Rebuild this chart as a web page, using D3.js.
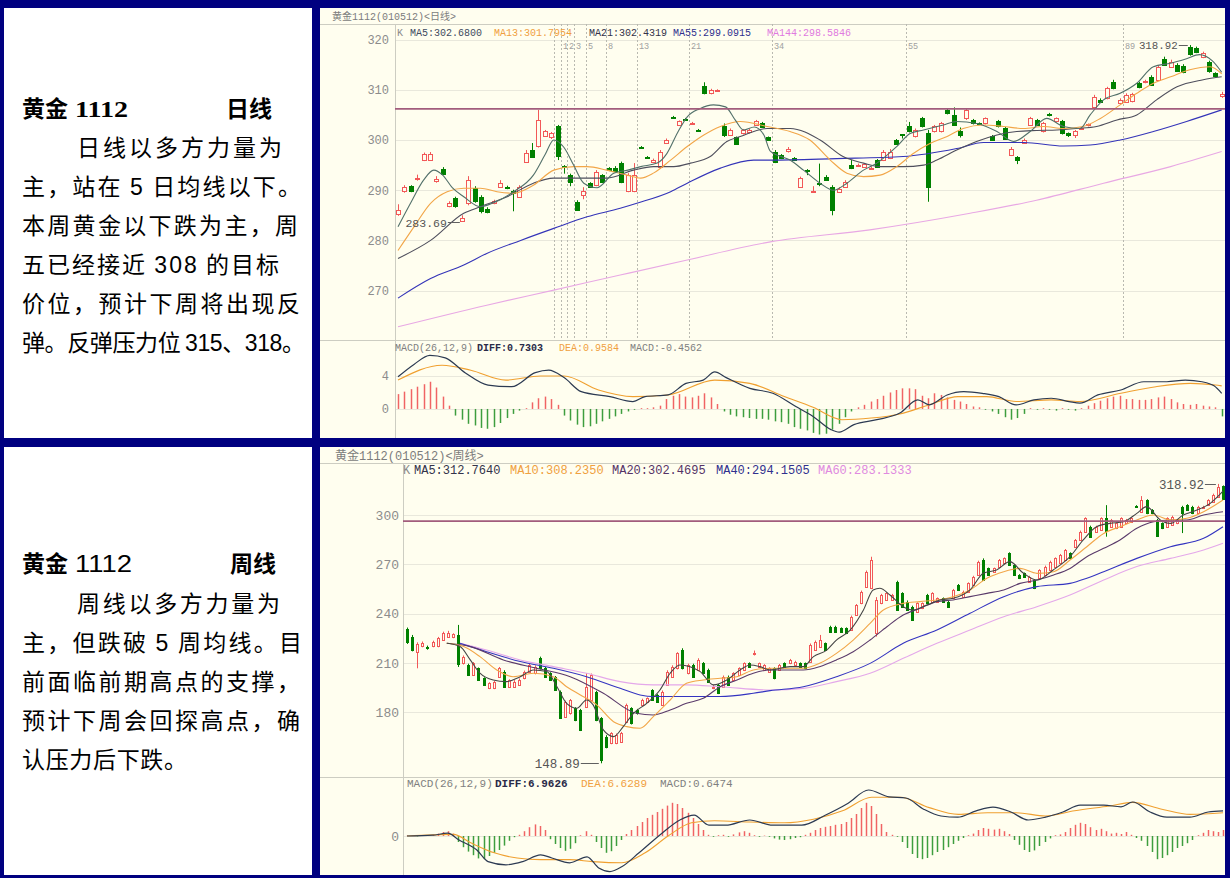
<!DOCTYPE html>
<html>
<head>
<meta charset="utf-8">
<title>黄金1112 日线 / 周线</title>
<script src="https://cdn.jsdelivr.net/npm/d3@7/dist/d3.min.js"></script>
<style>
  html, body { margin: 0; padding: 0; background: #000080; }
  svg { display: block; }
</style>
</head>
<body>
<svg id="page" width="1230" height="878"></svg>
<script>
// ---------------- daily chart data ----------------
// one candle per day: [open, high, low, close]
const dayCandles = [
  [285.2,287.2,284.9,286.0],[289.8,291.0,289.5,290.7],[290.8,291.0,289.6,289.8],[292.2,293.1,291.9,292.5],
  [296.0,297.5,295.8,297.3],[296.1,297.6,295.9,297.3],[291.9,292.8,291.5,292.2],[294.2,294.6,293.1,293.3],
  [286.9,287.8,286.6,287.4],[288.5,288.7,286.5,286.8],[283.9,285.0,283.69,284.5],[287.5,292.8,287.0,292.0],
  [290.4,290.8,287.5,287.8],[288.7,289.0,285.4,285.8],[286.3,286.6,285.4,285.7],[287.4,288.1,287.2,287.9],
  [290.7,292.0,290.5,291.5],[290.7,290.9,290.2,290.4],[289.9,290.1,285.8,289.4],[288.7,291.0,288.5,290.7],
  [295.7,298.0,295.5,297.5],[298.0,299.4,296.5,296.7],[298.8,306.0,298.5,304.0],[300.8,302.0,300.6,301.7],
  [300.5,301.6,300.2,301.3],[302.7,303.0,296.0,296.8],[294.8,295.0,293.3,294.6],[293.0,293.3,290.8,291.7],
  [287.7,288.0,285.9,286.1],[289.0,290.6,288.2,289.8],[291.4,291.6,290.5,290.7],[291.0,294.0,290.8,293.6],
  [293.0,293.2,291.5,291.7],[294.4,294.6,293.8,294.0],[294.5,294.8,293.7,293.9],[295.4,295.7,291.4,291.7],
  [289.8,293.4,289.6,293.0],[289.8,295.4,289.6,293.0],[298.6,298.8,298.3,298.5],[296.6,296.8,296.3,296.5],
  [295.7,296.3,295.4,296.0],[294.7,298.0,294.3,297.7],[299.4,300.3,299.2,300.0],[304.6,304.8,304.2,304.4],
  [303.0,303.9,302.8,303.7],[304.2,304.4,303.9,304.1],[303.2,303.6,303.0,303.4],[302.0,302.2,301.7,301.9],
  [310.8,311.5,309.1,309.3],[309.3,310.2,309.1,310.0],[309.7,310.1,309.6,309.9],[302.7,303.3,300.6,301.0],
  [301.0,302.3,300.8,302.0],[300.5,300.7,299.1,299.3],[301.3,302.2,301.1,302.0],[301.5,302.2,301.3,302.0],
  [303.0,304.0,302.8,303.7],[303.4,303.6,302.4,302.6],[300.5,300.7,299.8,300.0],[297.7,298.0,295.4,295.7],
  [297.0,297.2,296.2,296.4],[297.8,298.6,297.5,298.2],[296.4,296.6,295.8,296.0],[290.7,292.7,290.5,292.4],
  [294.1,294.2,293.0,293.9],[289.6,290.8,289.5,289.8],[291.5,295.3,290.8,291.3],[292.7,293.0,291.9,292.1],
  [290.7,291.0,285.0,286.0],[289.7,290.6,289.5,290.3],[290.7,292.0,290.5,291.7],[295.0,296.0,294.2,294.4],
  [294.9,295.3,294.7,295.1],[294.7,295.4,294.5,295.2],[294.3,294.7,294.1,294.5],[296.0,296.2,294.5,294.7],
  [296.0,298.0,295.8,297.7],[296.4,298.2,296.2,297.7],[300.0,300.2,299.1,299.3],[301.1,301.2,300.3,301.0],
  [302.7,303.6,301.5,301.7],[300.7,302.3,300.5,302.0],[304.3,304.6,302.5,302.7],[301.3,302.0,287.7,290.7],
  [301.7,303.0,301.5,302.7],[301.7,303.6,301.5,303.3],[306.0,306.2,305.1,305.3],[305.0,306.5,302.8,303.0],
  [301.7,302.5,300.5,301.0],[304.3,306.2,304.0,306.0],[304.0,304.2,303.1,303.3],[303.3,303.5,303.0,303.2],
  [303.3,304.5,303.1,304.3],[300.7,301.0,299.8,300.0],[303.7,304.0,302.5,302.7],[302.3,302.6,300.1,300.3],
  [297.0,298.6,296.8,298.3],[296.7,296.8,295.2,296.0],[299.5,300.3,299.3,300.0],[303.0,304.6,302.8,304.3],
  [304.0,304.2,302.8,303.0],[301.7,303.6,301.5,303.3],[305.2,305.4,304.7,304.9],[303.7,304.5,303.5,304.3],
  [303.7,304.0,301.1,301.3],[301.3,301.5,300.6,301.0],[301.0,302.0,300.4,301.7],[302.3,302.6,302.1,302.4],
  [302.9,303.3,302.7,303.1],[306.6,309.0,306.4,308.6],[308.0,308.3,307.4,307.6],[308.3,310.6,308.1,310.3],
  [311.6,312.0,310.1,310.3],[307.3,308.3,307.1,308.0],[307.6,309.3,307.4,309.0],[307.8,309.4,307.5,309.1],
  [311.3,311.6,310.3,310.5],[311.5,312.0,311.3,311.7],[312.6,312.9,310.8,311.0],[312.0,314.9,311.8,314.6],
  [316.2,316.6,314.8,315.0],[314.6,316.0,314.4,315.6],[315.0,315.3,313.6,313.8],[314.8,315.1,313.3,313.6],
  [318.5,318.92,316.8,317.2],[318.3,318.6,317.3,317.5],[316.5,317.6,316.3,317.3],[315.6,315.8,313.4,313.8],
  [313.3,313.5,312.6,312.8],[308.8,309.6,308.4,309.2]
];

// moving averages as [bar index, value]
const dayMA5 = [[0,282.7],[2,287.5],[4,292.0],[5.6,294.0],[7,293.0],[8.5,290.5],[10.3,288.7],[12.9,286.7],
  [15,287.5],[18.1,289.7],[21.2,293.0],[23,297.0],[24.4,300.0],[26,298.5],[27.5,295.0],[29.1,291.4],[31.2,290.5],
  [33.8,293.4],[36,294.0],[38,294.7],[40.6,295.4],[42.1,297.3],[43.8,301.5],[45.3,304.6],[47.2,306.2],[49.4,307.0],
  [51.3,306.6],[52.8,304.0],[54.1,302.0],[55.8,302.6],[57.3,301.0],[58.3,297.8],[61.4,296.0],[63.5,294.0],
  [66.1,291.4],[68.2,290.0],[70.3,291.4],[72.9,294.0],[75,295.4],[78.1,298.7],[80.2,301.3],[82.3,302.0],
  [85.4,303.0],[87.5,303.7],[90.6,303.3],[93.8,301.7],[96.4,299.7],[99,301.7],[101.6,304.3],[104.2,302.7],
  [106.8,302.3],[108.4,305.0],[110.5,308.0],[113.1,309.3],[115.7,311.3],[118.3,314.6],[121,315.3],[123.5,316.2],
  [125.5,317.0],[127.5,315.8],[129,313.5]];
const dayMA13 = [[0,278.0],[2.5,282.7],[5.1,287.4],[7.7,289.7],[10.3,290.4],[12.9,290.4],[15.5,289.7],[18.1,289.4],
  [21.2,291.0],[24.4,294.0],[27.5,294.7],[29.6,294.7],[32.7,294.0],[35.9,293.0],[38,292.4],[40,293.4],[42.7,296.0],
  [45.3,298.7],[47.9,301.0],[50.5,302.7],[53.6,303.7],[57.8,302.7],[61.4,301.7],[64.5,300.0],[67.7,296.0],
  [70.3,293.4],[72.9,292.7],[75.5,293.0],[78.1,294.7],[80.7,297.3],[83.3,299.3],[86,300.7],[88.5,302.3],
  [91.7,303.0],[94.8,302.7],[98,302.3],[101.1,302.7],[104.2,302.3],[107.3,302.7],[110,304.3],[113.1,307.0],
  [115.7,309.3],[118.3,311.3],[121,312.6],[124,314.0],[127.2,314.6],[129,313.2]];
const dayMA21 = [[0,276.4],[5.1,280.0],[10.3,285.4],[12.9,286.7],[17.1,288.7],[21.2,291.4],[24.4,292.4],
  [29.6,292.4],[32.7,292.4],[36.9,294.0],[40,294.7],[43.2,294.7],[45.8,295.4],[48.9,296.7],[51.5,299.7],
  [53.6,300.7],[57.8,302.3],[61.4,302.3],[66.1,300.0],[69.7,296.7],[72.9,295.4],[75.5,294.7],[79.1,294.7],
  [82.3,295.0],[84.4,296.0],[87.5,298.0],[90.6,299.7],[93.8,301.0],[96.9,301.7],[100,301.9],[103.2,302.0],
  [106.3,302.3],[109.4,302.7],[112.6,304.0],[115.7,305.0],[118.8,308.0],[122,310.6],[126.1,312.0],[129,312.6]];
const dayMA55 = [[0,268.5],[5.1,272.4],[10.3,275.1],[13.9,277.4],[19.2,280.0],[24.4,282.4],[29.6,284.7],
  [34.8,286.4],[37.4,287.4],[42.7,289.7],[45.3,291.4],[50.5,294.4],[55.7,296.0],[58.3,296.0],[68.7,296.3],
  [79.1,296.7],[87.5,298.3],[91.7,299.5],[98,299.5],[104.2,298.8],[108.4,299.0],[113.1,300.0],[118.3,301.7],
  [123.5,303.7],[129,306.0]];
const dayMA144 = [[0,262.8],[13.9,267.1],[24.4,270.1],[34.8,273.1],[45.3,276.1],[58.3,279.7],[73.9,282.1],
  [89.6,285.4],[100,288.0],[110.5,291.4],[121,294.7],[129,297.7]];

// MACD(26,12,9)
const dayDiff = [[0,3.9],[2.5,5.4],[5,6.5],[7.4,6.2],[10.5,4.4],[14.1,2.9],[17.8,2.7],[21.5,4.4],[23.6,4.7],
  [26,3.8],[28.7,2.1],[33.2,1.5],[36.8,0.9],[38.7,1.5],[42.3,1.7],[45.1,3.1],[47.8,3.5],[49.6,4.5],[51.4,3.8],
  [55.1,2.5],[58.7,1.9],[62.3,0.3],[65,-0.9],[67.8,-2.5],[69.1,-2.8],[71.4,-1.9],[75,-1.3],[78.6,-0.5],
  [81.4,1.1],[83.2,0.5],[86,1.7],[88.6,2.1],[91.5,1.9],[94.1,1.5],[96.8,0.5],[99.6,1.1],[102.3,1.3],[105.1,0.9],
  [106.8,0.7],[109.6,1.7],[113.2,2.3],[116.8,3.3],[120.4,3.3],[123.3,3.5],[125.9,3.3],[127.8,2.8],[129,1.9]];
const dayDea = [[0,3.5],[6.9,5.3],[11.4,4.7],[16.9,3.5],[22.3,4.0],[26,4.0],[31.4,2.3],[36.8,1.5],[42.3,1.7],
  [49.6,3.5],[55.1,3.1],[60.5,1.5],[65,0.2],[69.5,-1.3],[74.1,-1.1],[78.6,-0.6],[83.2,0.5],[87.7,1.5],[92.2,1.5],
  [96.8,0.9],[102.3,1.1],[106.8,0.9],[113.2,1.9],[118.7,2.7],[124.1,3.1],[128,2.9],[129,2.8]];
const dayHist = [
  1.8,2.1,2.4,2.7,3.0,3.3,2.6,1.5,0.4,
  -0.8,-1.3,-1.8,-2.0,-2.3,-2.4,-2.2,-1.7,-1.1,-0.6,-0.2,
  0.1,0.8,1.3,1.5,1.2,0.5,
  -0.8,-1.4,-1.9,-2.2,-2.1,-1.8,-1.5,-1.2,-0.9,-0.6,-0.3,
  -0.1,0.1,0.1,0.2,0.4,
  1.2,1.6,1.8,1.5,1.4,1.6,1.9,1.4,0.6,
  -0.3,-0.7,-0.9,-1.0,-1.1,-1.2,-1.2,-1.3,-1.5,-1.6,-1.8,-2.2,-2.4,-2.6,-2.9,-3.1,-3.0,-2.5,-1.8,-1.0,-0.3,
  0.2,0.5,0.9,1.2,1.6,2.0,2.3,2.5,2.5,2.4,1.6,1.3,1.9,1.7,1.4,1.1,0.9,0.6,0.3,0.2,
  -0.1,-0.3,-0.6,-1.0,-1.3,-1.1,-0.6,
  0.1,-0.1,0.1,-0.1,-0.2,0.1,-0.1,-0.2,0.1,
  0.4,0.7,1.0,1.3,1.5,1.6,1.2,1.2,1.1,1.1,1.2,1.4,1.5,1.2,0.8,0.6,0.5,0.6,0.4,0.3,
  0.2,-0.9
];

const dayTitle = "黄金1112(010512)<日线>";
const dayLegend = ["K", "MA5:302.6800", "MA13:301.7954", "MA21:302.4319", "MA55:299.0915", "MA144:298.5846"];
const dayMacdLegend = ["MACD(26,12,9)", "DIFF:0.7303", "DEA:0.9584", "MACD:-0.4562"];
const dayTicks = [320, 310, 300, 290, 280, 270];
const dayMacdTicks = [4, 0];
const dayResist = 306.2;
const dayMarks = [[10, 283.69], [124, 318.92]];
const fibOrigin = 24.5;
const fibSteps = [0, 1, 2, 3, 5, 8, 13, 21, 34, 55, 89];

// ---------------- weekly chart data ----------------
const wkCandles = [
  [230.5,231.5,221.5,222.5],[226,227,217,218],[216.5,222.5,206.7,221.5],[220.2,223,219.5,222],
  [219.8,220.5,218,218.8],[220,223.5,219.5,222.8],[220,225.8,219.5,225],[224,229,223.5,228],
  [226,229.5,225.5,228],[225.5,228,225,227.5],[227,233.1,207.5,209.5],[209.7,214.5,209,213.8],
  [208.7,209.5,202,202.6],[202.6,210.5,202,209.7],[206.7,207.2,199,199.6],[200.6,201.2,196,196.6],
  [194.5,198.2,194,197.6],[194.5,199,194,198.6],[201.6,207.5,201,206.7],[204.7,205.5,195,195.5],
  [195.5,200,195,199.6],[195.5,199.5,195,198.6],[196.6,200.5,196,199.6],[200.6,205.3,200,204.7],
  [204.7,209.5,204,208.7],[203.7,208.5,203,207.7],[212.8,213.8,206,206.7],[206.7,207.5,201,201.6],
  [203.7,204.3,199,199.6],[201.6,202,193,193.5],[192.5,193.2,176,176.3],[177.3,187,176.5,186.4],
  [179.3,188,178.5,187.4],[182.4,183,174.5,175.3],[181.3,182,168.5,169.2],[183.4,203.7,182.5,195.5],
  [187.4,203.5,186.5,202.6],[192.5,193,174.5,175.3],[176.3,177,148.89,151],[165.1,166,158,159],
  [161.1,167.8,160.5,167.1],[161.1,167,160.5,166.1],[162.1,168,161.5,167.1],[174.2,185.2,173.5,184.4],
  [182.4,183,172.5,173.2],[181.3,182,178.5,179.3],[184.4,188.2,184,187.4],[186.4,189,186,188.4],
  [193.5,194,187,187.4],[190.5,191,186,186.4],[184.4,193.2,184,192.5],[196.6,205.5,196,204.7],
  [201.6,208.5,201,207.7],[206.7,216.5,206,215.8],[217.8,218.9,206,206.7],[203.7,209.5,203,208.7],
  [208.7,209.5,201,201.6],[205.7,212.8,205,211.8],[209.7,210.5,203,203.7],[205.7,206.5,198,198.6],
  [194.5,196.5,194,195.5],[196.6,197.2,191,191.5],[195.5,202.3,195,201.6],[201.6,202.3,196,196.6],
  [199.6,204.3,199,203.7],[202.6,207.3,202,206.7],[205.7,210.3,205,209.7],[209.7,210.3,207.2,207.7],
  [215.5,217.5,214.5,216],[207.7,210.2,207.2,209.7],[205.7,209.2,205.2,208.7],[204.7,207.3,204.2,206.7],
  [206.7,207.3,200,200.6],[205.7,209.3,205.2,208.7],[209.7,210.3,207.2,207.7],[209.7,212.4,209.2,211.8],
  [208.7,211.3,208.2,210.8],[209.7,210.3,207.2,207.7],[209.7,210.2,206.2,206.7],[210.8,221.8,210.3,221],
  [218,223.6,217.5,223],[219.9,227,219.4,223.9],[221.9,222.4,217.3,217.8],[232,232.6,228.5,229],
  [232,232.6,228.5,229],[231,231.6,228.5,229],[231,231.6,227.5,228],[230,238.8,229.5,238.1],
  [239.1,245.8,238.6,245.2],[246.2,254,245.7,253.3],[256.4,266.2,255.9,265.5],[255.4,274.6,254.9,272.6],
  [228,250,226,248.3],[246.2,252,245.7,251.3],[248.3,253,247.8,252.3],[248.3,252,247.8,251.3],
  [259.4,260,241.7,242.2],[252.3,253,243.7,244.2],[247.3,248,241.7,242.2],[244.2,244.8,235.6,236.1],
  [241.2,246.8,240.7,246.2],[243.2,246.8,242.7,246.2],[251.3,252,245.7,246.2],[247.3,253,246.8,252.3],
  [247.3,249.8,246.8,249.3],[249.3,249.8,246.8,247.3],[247.3,247.8,243.7,244.2],[249.3,255,248.8,254.4],
  [257.4,258,253.9,254.4],[250.3,254,249.8,253.3],[253.3,259,252.8,258.4],[257.4,263,256.9,262.5],
  [263.5,272.2,263,271.6],[272.6,273.6,259.9,260.4],[267.5,268,263,263.5],[265.5,268,265,267.5],
  [268.6,273.2,268.1,272.6],[270.6,274.2,270.1,273.6],[276.7,277.3,269.1,269.6],[269.6,270.2,263,263.5],
  [263.5,264,261,261.5],[264.5,265,262,262.5],[259.4,263,258.9,262.5],[260.4,261,254.9,255.4],
  [261.5,267,261,266.5],[263.5,269.2,263,268.6],[266.5,272.2,266,271.6],[268.6,274.2,268.1,273.6],
  [270.6,276.3,270.1,275.7],[272.6,279.3,272.1,278.7],[276.7,277.3,273.1,273.6],[280.7,285.4,280.2,284.8],
  [284.8,290.5,284.3,289.9],[289.9,298.6,289.4,298],[292.9,293.5,286.3,286.8],[289.9,293.5,289.4,292.9],
  [290.9,298.6,290.4,298],[298,306,286.8,290],[292.9,297.6,292.4,297],[291.9,295.5,291.4,294.9],
  [292.9,298.6,292.4,298],[294.9,297.6,294.4,297],[296,298.6,295.5,298],[305.4,306,304.4,305],
  [302,311.5,301.5,309],[309,309.6,300.5,301],[303,303.6,300.5,301],[297,297.6,286.8,287.5],
  [294.9,295.5,291.4,291.9],[292.9,298.6,292.4,298],[293.9,299.6,293.4,299],[294.9,297.6,294.4,297],
  [305.1,305.6,289,301],[306.1,306.6,302.5,303],[305.1,305.6,300.5,301],[301,305.6,300.5,305.1],
  [304.5,305.6,304,305],[306.1,309.6,305.6,309.1],[308,313,307.5,312],[311,318.92,310.5,317],
  [317.5,318,309.5,310]
];

const wkMA5 = [[7.8,221.9],[10.4,219.9],[12.4,211.8],[14.3,203.7],[16.9,199.6],[19.5,198.6],[22.2,201.6],
  [24.8,205.7],[27.4,204.7],[29.4,195.5],[31.3,185.4],[33.3,182.4],[35.2,187.4],[36.5,184.4],[38.5,169.2],
  [40.5,165.1],[42.4,171.2],[44.4,179.3],[47,185.4],[49.6,193.5],[51.6,203.7],[53.5,208.7],[55.5,207.7],
  [57.5,204.7],[60.1,196.6],[62.7,199.6],[65.3,205.7],[67.3,208.7],[69.2,207.7],[71.2,205.7],[75.1,207.7],
  [77.7,207.7],[79.7,213.8],[82.3,217.8],[84.2,223.9],[86.9,230.0],[89.5,242.2],[91.4,254.4],[92.7,255.4],
  [94.7,251.3],[97.3,244.2],[99.3,242.2],[101.9,245.2],[104.5,248.3],[107.1,249.3],[110.4,254.4],[113,264.5],
  [115.6,266.5],[118.2,271.6],[120.9,264.5],[123.5,260.4],[126.7,266.5],[130,274.6],[132.6,284.8],
  [135.2,292.9],[137.8,294.9],[140.5,295.9],[143.1,301.0],[145,305.1],[147.7,297.0],[149.7,294.9],
  [152.2,300.0],[154.9,303.0],[157.5,307.1],[160,314.5]];
const wkMA10 = [[7.8,221.9],[11.1,219.9],[14.3,213.8],[17.6,205.7],[20.8,201.6],[24.8,203.7],[28.7,201.6],
  [31.3,195.5],[34,190.5],[37.2,184.4],[40.5,174.2],[43.1,171.2],[45.7,170.2],[48.3,177.3],[51.6,187.4],
  [54.8,197.6],[58.1,199.6],[61.4,200.6],[64.7,201.6],[67.9,205.7],[71.2,206.7],[77.7,206.7],[80.9,209.7],
  [84.2,215.8],[87.5,223.9],[90.8,234.0],[93.4,242.2],[97.3,246.2],[100.6,247.3],[103.9,248.3],[107.1,250.3],
  [110.4,254.4],[113.7,261.5],[117,265.5],[120.2,267.5],[123.5,264.5],[126.8,265.5],[130,272.6],[133.3,280.7],
  [136.6,288.8],[139.8,292.9],[143.1,297.0],[146.4,300.0],[149.7,297.0],[152.9,298.0],[156.2,302.0],[160,309.1]];
const wkMA20 = [[7.8,221.9],[12.4,219.9],[18.9,211.8],[25.4,206.7],[32,201.6],[38.5,191.5],[45,179.3],
  [48.3,178.3],[51.6,181.3],[54.8,185.4],[58.1,188.4],[61.4,195.5],[64.7,199.6],[67.9,203.7],[71.2,205.7],
  [77.7,205.7],[80.9,207.7],[84.2,211.8],[87.5,216.8],[90.8,223.9],[94.1,232.0],[97.3,239.1],[100.6,243.2],
  [103.9,247.3],[107.1,248.3],[110.4,250.3],[113.7,252.3],[117,254.4],[120.2,258.4],[123.5,260.4],
  [126.8,263.5],[130,267.5],[133.3,274.6],[136.6,279.7],[139.8,284.8],[143.1,291.9],[146.4,295.9],
  [149.7,297.0],[152.9,297.0],[156.2,300.0],[160,302.0]];
const wkMA40 = [[10.4,221.9],[15.6,216.8],[22.2,210.8],[28.7,206.7],[35.2,201.6],[41.8,194.5],[45.7,190.5],
  [48.3,189.5],[54.8,189.5],[61.4,189.5],[67.9,191.5],[71.2,193.1],[77.7,195.5],[84.2,201.6],[90.8,209.7],
  [97.3,221.9],[103.9,230.0],[110.4,240.2],[117,250.3],[123.5,256.4],[130,258.4],[133.3,261.5],[136.6,265.5],
  [143.1,273.6],[149.7,280.7],[156.2,285.8],[160,292.9]];
const wkMA60 = [[10.4,221.9],[15.6,217.8],[22.2,211.8],[28.7,207.7],[35.2,203.7],[41.8,198.6],[48.3,196.6],
  [54.8,196.6],[61.4,195.5],[71.2,193.5],[77.7,194.5],[84.2,198.6],[90.8,203.7],[97.3,212.8],[103.9,221.9],
  [110.4,230.0],[117,238.1],[123.5,244.2],[130,251.3],[136.6,260.4],[143.1,268.6],[149.7,273.6],[156.2,278.7],
  [160,282.8]];

const wkDiff = [[0,0],[5,0.2],[8,0.7],[10.2,-1.0],[13.7,-3.5],[15.9,-6.4],[19.4,-7.2],[22.7,-6.4],[26.2,-4.7],
  [28.4,-5.5],[31.9,-6.7],[35.3,-5.2],[37.6,-8.0],[39.8,-8.9],[42.1,-7.7],[45.5,-4.2],[50,0.7],[53.5,4.0],
  [56.3,5.2],[59.2,2.7],[62.5,2.7],[67.2,4.0],[71.7,2.7],[77.4,2.7],[82,5.2],[86.5,8.2],[90.5,11.5],[94.5,9.8],
  [97.8,9.5],[101.3,6.7],[104.7,5.0],[108,4.7],[111.6,6.3],[114.9,7.2],[118.4,6.0],[121.8,4.0],[125.2,4.7],
  [128.6,6.0],[132,7.7],[136.6,7.7],[140,7.3],[142.3,8.5],[145.7,6.0],[149,4.7],[153.5,4.7],[157.1,6.0],[160,6.3]];
const wkDea = [[0,0],[9.1,0.4],[12.5,-1.7],[17.1,-4.2],[21.6,-5.5],[26.2,-5.9],[31.9,-5.9],[36.4,-6.4],
  [42.1,-6.7],[46.7,-4.2],[51.2,0],[55.8,3.3],[60.3,3.8],[67.2,3.5],[74,3.3],[79.7,4.2],[85.4,6.3],[91.1,9.7],
  [96.7,9.7],[102.4,7.1],[108.1,5.4],[113.8,5.8],[119.5,5.8],[125.2,5.0],[130.9,6.3],[137.7,7.5],[142.3,8.4],
  [148,6.7],[153.6,5.4],[160,5.8]];
const wkHist = [
  0.1,0.1,-0.1,0.2,0.1,0.3,0.6,1.0,1.2,0.6,
  -1.5,-2.8,-3.9,-4.8,-5.6,-5.8,-5.0,-4.2,-3.5,-2.4,-1.2,
  -0.3,
  0.3,1.2,2.2,2.9,2.5,1.5,
  -0.8,-2.0,-3.0,-3.7,-3.2,-1.8,
  0.2,1.2,0.3,
  -1.5,-3.0,-4.2,-3.8,-2.5,-1.0,
  0.5,1.5,2.5,3.5,4.5,5.3,6.0,6.8,7.6,8.3,8.0,7.0,5.8,4.5,3.0,1.5,
  0.3,-0.2,0.2,0.3,-0.2,0.4,0.9,1.2,0.8,0.2,-0.2,0.1,-0.2,
  -0.6,-0.9,-1.0,-0.8,-0.5,-0.3,
  0.3,0.8,1.5,2.0,2.3,2.5,2.8,3.0,3.5,4.5,5.5,7.0,8.3,7.5,5.5,3.0,1.0,
  0.3,-0.2,
  -1.5,-3.0,-4.5,-5.5,-5.8,-5.5,-4.8,-4.0,-3.5,-2.8,-2.0,-1.2,-0.5,
  0.2,0.6,
  1.5,2.0,1.8,1.6,1.8,1.2,0.5,
  -1.0,-2.2,-3.5,-4.0,-3.6,-2.5,-1.5,-0.6,
  0.2,0.4,
  1.0,2.0,2.8,3.3,3.0,2.2,1.5,1.8,1.2,0.6,
  0.8,0.5,1.0,0.3,
  -0.5,-1.2,-2.5,-4.0,-5.8,-5.5,-4.8,-4.0,-3.0,-2.5,-1.8,-1.0,
  0.2,0.8,1.5,1.2,1.0,1.5
];

const wkTitle = "黄金1112(010512)<周线>";
const wkLegend = ["K", "MA5:312.7640", "MA10:308.2350", "MA20:302.4695", "MA40:294.1505", "MA60:283.1333"];
const wkMacdLegend = ["MACD(26,12,9)", "DIFF:6.9626", "DEA:6.6289", "MACD:0.6474"];
const wkTicks = [300, 270, 240, 210, 180];
const wkMacdTicks = [0];
const wkResist = 296.3;
const wkMarks = [[38, 148.89], [159, 318.92]];

// ---------------- commentary text ----------------
const dayHead = ["黄金", "1112", "日线"];
const dayNote = ["日线以多方力量为", "主，站在 5 日均线以下。", "本周黄金以下跌为主，周",
  "五已经接近 308 的目标", "价位，预计下周将出现反", "弹。反弹压力位 315、318。"];
const wkHead = ["黄金", "1112", "周线"];
const wkNote = ["周线以多方力量为", "主，但跌破 5 周均线。目", "前面临前期高点的支撑，",
  "预计下周会回探高点，确", "认压力后下跌。"];

// ---------------- drawing ----------------
const NAVY = "#000080", CREAM = "#fffeef", RED = "#f25858", GREEN = "#008000";
const MONO = "'Liberation Mono', 'DejaVu Sans Mono', 'Noto Sans CJK SC', monospace";
const CJK = "'Noto Sans CJK SC', sans-serif";
const SANS = "'Liberation Sans', Arial, sans-serif";
const SERIF = "'Liberation Serif', 'Times New Roman', serif";

const svg = d3.select("#page");
svg.append("rect").attr("width", 1230).attr("height", 878).attr("fill", NAVY);

// left cells of the table
[[4, 8, 308, 430], [4, 447, 308, 428]].forEach(c => {
  svg.append("rect").attr("x", c[0]).attr("y", c[1]).attr("width", c[2]).attr("height", c[3]).attr("fill", "#fff");
});

function drawNote(head, headNum, lines, spans, titleY, firstY) {
  const g = svg.append("g").attr("fill", "#000");
  g.append("text").attr("x", 22).attr("y", titleY + 8)
    .attr("font-family", CJK).attr("font-size", 23).attr("font-weight", "bold").text(head[0]);
  g.append("text").attr("x", 75).attr("y", titleY + 8)
    .attr("font-family", headNum.font).attr("font-size", 23).attr("font-weight", headNum.weight)
    .attr("textLength", headNum.len).attr("lengthAdjust", "spacingAndGlyphs").text(head[1]);
  g.append("text").attr("x", headNum.rightX).attr("y", titleY + 8)
    .attr("font-family", CJK).attr("font-size", 23).attr("font-weight", "bold").text(head[2]);

  lines.forEach((s, k) => {
    const t = g.append("text")
      .attr("x", spans[k][0]).attr("y", firstY + 39 * k + 8)
      .attr("font-family", CJK).attr("font-size", 23)
      .attr("textLength", spans[k][1] - spans[k][0]).attr("lengthAdjust", "spacing");
    s.split(/(\d+)/).filter(p => p.length).forEach(p => {
      const sp = t.append("tspan").text(p);
      if (/^\d+$/.test(p)) sp.attr("font-family", SANS);
    });
  });
}

drawNote(dayHead, { font: SERIF, weight: "bold", len: 53, rightX: 226 }, dayNote,
  [[77, 282], [22, 301], [22, 298], [22, 279], [22, 300], [22, 305]], 109, 148);
drawNote(wkHead, { font: SANS, weight: "normal", len: 57, rightX: 230 }, wkNote,
  [[77, 280], [22, 302], [22, 300], [22, 300], [22, 187]], 564, 604);

function drawPanel(p) {
  const g = svg.append("g");
  const { x0, x1, y0, y1 } = p.box;
  g.append("rect").attr("x", x0).attr("y", y0).attr("width", x1 - x0).attr("height", y1 - y0).attr("fill", CREAM);

  const x = d3.scaleLinear().domain([0, p.candles.length - 1]).range(p.xRange);
  const y = d3.scaleLinear().domain(p.priceDomain).range([p.mainBottom, p.topLine]);
  const ym = d3.scaleLinear().domain(p.macdDomain).range([y1, p.mainBottom]);
  const px = i => Math.round(x(i)) + 0.5;

  // header
  g.append("text").attr("x", p.headX).attr("y", p.headY)
    .attr("font-family", MONO).attr("font-size", p.headSize).attr("fill", "#7c7c7c").text(p.title);

  // grid lines through the axis generator
  const grid = (scale, ticks) => g.append("g").attr("transform", `translate(${p.axisX},0)`)
    .call(d3.axisRight(scale).tickValues(ticks).tickSize(x1 - p.axisX).tickFormat(""))
    .call(a => a.select(".domain").remove())
    .call(a => a.selectAll("line").attr("stroke", "#e9e8dc").attr("shape-rendering", "crispEdges"));
  grid(y, p.ticks);
  grid(ym, p.macdTicks);

  const labels = (scale, ticks) => g.append("g").attr("transform", `translate(${p.labelX},0)`)
    .call(d3.axisLeft(scale).tickValues(ticks).tickSize(0).tickPadding(0).tickFormat(d3.format("d")))
    .call(a => a.select(".domain").remove())
    .call(a => a.selectAll("text").attr("font-family", MONO).attr("font-size", p.tickSize).attr("fill", "#8c8c8c"));
  labels(y, p.ticks);
  labels(ym, p.macdTicks);

  // frame
  const frame = g.append("g").attr("stroke", "#cdcdc2").attr("shape-rendering", "crispEdges");
  frame.append("line").attr("x1", x0).attr("x2", x1).attr("y1", p.topLine).attr("y2", p.topLine);
  frame.append("line").attr("x1", x0).attr("x2", x1).attr("y1", p.mainBottom).attr("y2", p.mainBottom);
  frame.append("line").attr("x1", p.axisX).attr("x2", p.axisX).attr("y1", p.topLine).attr("y2", y1);

  // fibonacci time lines
  if (p.fib) {
    const fg = g.append("g");
    p.fib.steps.forEach(s => {
      const fx = Math.round(x(p.fib.origin + s)) + 0.5;
      fg.append("line").attr("x1", fx).attr("x2", fx).attr("y1", p.topLine).attr("y2", p.mainBottom)
        .attr("stroke", "#b9b9b0").attr("stroke-dasharray", "2,2");
      if (s > 0) fg.append("text").attr("x", fx + 1.5).attr("y", p.fib.labelY)
        .attr("font-family", MONO).attr("font-size", 8.5).attr("fill", "#a0a0a0").text(s);
    });
  }

  // candles
  const cg = g.append("g").selectAll("g").data(p.candles).join("g");
  const col = d => d[3] >= d[0] ? RED : GREEN;
  cg.append("line")
    .attr("x1", (d, i) => px(i)).attr("x2", (d, i) => px(i))
    .attr("y1", d => y(d[1])).attr("y2", d => y(d[2]))
    .attr("stroke", col);
  cg.append("rect")
    .attr("x", (d, i) => px(i) - p.bw / 2)
    .attr("y", d => Math.round(y(Math.max(d[0], d[3]))) + 0.5)
    .attr("width", p.bw)
    .attr("height", d => Math.max(1, Math.round(y(Math.min(d[0], d[3]))) - Math.round(y(Math.max(d[0], d[3])))))
    .attr("fill", d => d[3] >= d[0] ? CREAM : GREEN)
    .attr("stroke", col);

  // moving averages
  const line = d3.line().x(d => x(d[0])).y(d => y(d[1])).curve(d3.curveMonotoneX);
  p.mas.forEach(m => g.append("path").attr("d", line(m.pts)).attr("fill", "none")
    .attr("stroke", m.color).attr("stroke-width", 1.1));

  // resistance line
  g.append("line").attr("x1", p.axisX).attr("x2", x1).attr("y1", y(p.resist)).attr("y2", y(p.resist))
    .attr("stroke", "#a25c7c").attr("stroke-width", 1.6);

  // high / low marks
  p.marks.forEach((m, k) => {
    const mx = x(m[0]), my = Math.round(y(m[1])) + 0.5, gap = p.markGap[k];
    g.append("line").attr("x1", mx - gap).attr("x2", mx - 2).attr("y1", my).attr("y2", my).attr("stroke", "#606060");
    g.append("text").attr("x", mx - gap - 1).attr("y", my).attr("dy", "0.35em").attr("text-anchor", "end")
      .attr("font-family", MONO).attr("font-size", p.markSize[k]).attr("fill", "#555").text(m[1].toFixed(2));
  });

  // legend row
  p.legend.forEach((t, k) => g.append("text").attr("x", p.legendX[k]).attr("y", p.legendY)
    .attr("font-family", MONO).attr("font-size", p.legendSize).attr("fill", p.legendColors[k]).text(t));

  // MACD histogram
  g.append("g").selectAll("line").data(p.hist).join("line")
    .attr("x1", (d, i) => px(i)).attr("x2", (d, i) => px(i))
    .attr("y1", ym(0)).attr("y2", d => ym(d))
    .attr("stroke", d => d >= 0 ? "#f06464" : "#3e9e3e").attr("stroke-width", 1.5);

  const ml = d3.line().x(d => x(d[0])).y(d => ym(d[1])).curve(d3.curveMonotoneX);
  g.append("path").attr("d", ml(p.dea)).attr("fill", "none").attr("stroke", "#f0a030").attr("stroke-width", 1.1);
  g.append("path").attr("d", ml(p.diff)).attr("fill", "none").attr("stroke", "#2c3a52").attr("stroke-width", 1.2);

  p.macdLegend.forEach((t, k) => g.append("text").attr("x", p.macdLegendX[k]).attr("y", p.macdLegendY)
    .attr("font-family", MONO).attr("font-size", p.macdLegendSize).attr("fill", p.macdLegendColors[k])
    .attr("font-weight", k === 1 ? "bold" : "normal").text(t));
}

drawPanel({
  box: { x0: 320, x1: 1225, y0: 8, y1: 438 },
  candles: dayCandles, xRange: [398, 1221.7], bw: 4,
  topLine: 24, mainBottom: 340,
  priceDomain: [260.16, 323.11], macdDomain: [-3.52, 8.36],
  axisX: 395, labelX: 389, tickSize: 12,
  ticks: dayTicks, macdTicks: dayMacdTicks,
  title: dayTitle, headX: 332, headY: 20, headSize: 10,
  legend: dayLegend, legendY: 35.5, legendSize: 10,
  legendX: [397, 410, 494, 589, 673, 767],
  legendColors: ["#8a8a8a", "#404a60", "#f0a040", "#33334a", "#30308e", "#e07ae0"],
  mas: [
    { pts: dayMA144, color: "#e8a8e4" },
    { pts: dayMA55, color: "#3434b8" },
    { pts: dayMA21, color: "#4e4e5c" },
    { pts: dayMA13, color: "#f2a648" },
    { pts: dayMA5, color: "#52706a" }
  ],
  resist: dayResist,
  marks: dayMarks, markGap: [14, 11], markSize: [11.5, 10.8],
  fib: { origin: fibOrigin, steps: fibSteps, labelY: 49 },
  hist: dayHist, diff: dayDiff, dea: dayDea,
  macdLegend: dayMacdLegend, macdLegendY: 350.5, macdLegendSize: 10,
  macdLegendX: [395, 477, 559, 630],
  macdLegendColors: ["#808080", "#2a2a48", "#f0a040", "#808080"]
});

drawPanel({
  box: { x0: 320, x1: 1225, y0: 447, y1: 875 },
  candles: wkCandles, xRange: [407, 1223], bw: 2,
  topLine: 463, mainBottom: 777,
  priceDomain: [140.54, 331.65], macdDomain: [-9.75, 14.75],
  axisX: 403, labelX: 399, tickSize: 13,
  ticks: wkTicks, macdTicks: wkMacdTicks,
  title: wkTitle, headX: 335, headY: 459.5, headSize: 12,
  legend: wkLegend, legendY: 474, legendSize: 12,
  legendX: [403, 414, 510, 612, 716, 818],
  legendColors: ["#8a8a8a", "#33334a", "#f0a040", "#553366", "#30308e", "#e08ae0"],
  mas: [
    { pts: wkMA60, color: "#e4a8ea" },
    { pts: wkMA40, color: "#3434c0" },
    { pts: wkMA20, color: "#5a3a6a" },
    { pts: wkMA10, color: "#f2a648" },
    { pts: wkMA5, color: "#454545" }
  ],
  resist: wkResist,
  marks: wkMarks, markGap: [20, 13], markSize: [12.5, 12.5],
  fib: null,
  hist: wkHist, diff: wkDiff, dea: wkDea,
  macdLegend: wkMacdLegend, macdLegendY: 787, macdLegendSize: 11,
  macdLegendX: [407, 495, 581, 660],
  macdLegendColors: ["#808080", "#2a2a48", "#f0a040", "#808080"]
});
</script>
</body>
</html>
